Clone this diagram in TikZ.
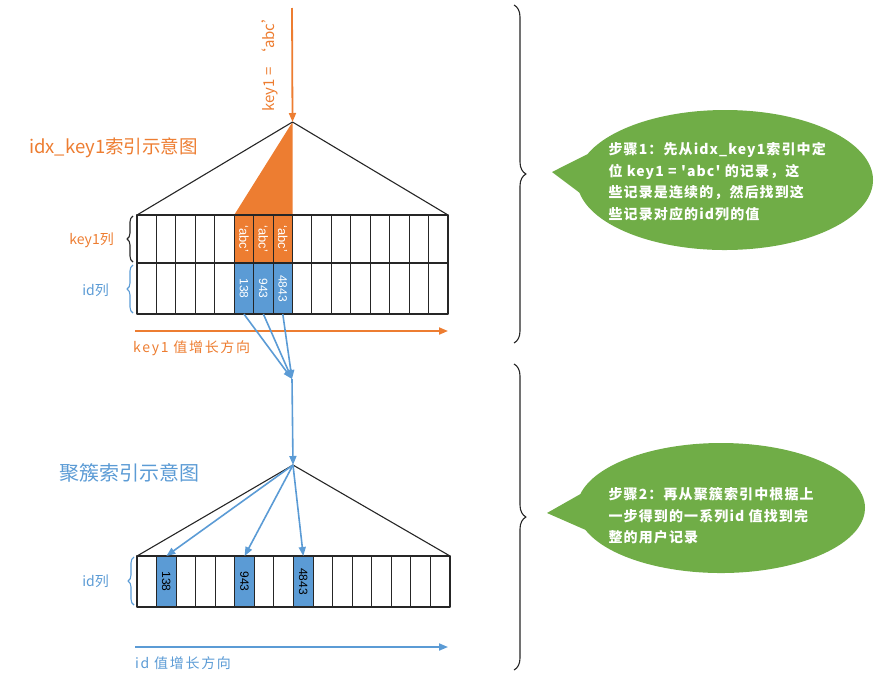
\documentclass[tikz,border=0pt]{standalone}
\usepackage{fontspec}
\setmainfont{Liberation Sans}
\newfontfamily\cjk{Noto Sans CJK SC}
\newfontfamily\cjkplain[Ligatures=TeXOff]{Noto Sans CJK SC}
\usetikzlibrary{arrows.meta,decorations.pathreplacing,shapes.callouts}
\definecolor{org}{HTML}{ED7D31}
\definecolor{blu}{HTML}{5B9BD5}
\definecolor{grn}{HTML}{70AD47}
\tikzset{
  cellA/.style={draw=black!85,line width=1.1pt,minimum width=19.4375pt,minimum height=48pt,inner sep=0pt,outer sep=0pt},
  cellB/.style={draw=black!85,line width=1.1pt,minimum width=19.5625pt,minimum height=51pt,inner sep=0pt,outer sep=0pt},
  celltxt/.style={rotate=-90,font=\fontsize{12}{12}\selectfont,inner sep=0pt},
  oarrow/.style={draw=org,line width=1.8pt,-{Triangle[length=9pt,width=7pt]}},
  barrow/.style={draw=blu,line width=1.8pt,-{Triangle[length=9pt,width=7pt]}},
  tri/.style={draw=black!85,line width=1.1pt},
  lbrace/.style={decorate,decoration={brace,amplitude=6pt},line width=1.1pt},
  rbrace/.style={decorate,decoration={brace,amplitude=12pt},line width=1.1pt,draw=black!85},
  bubble/.style={ellipse callout,fill=grn,callout pointer arc=32},
  bubtxt/.style={anchor=north west,align=left,text=white,font=\cjkplain\bfseries\fontsize{14}{21.5}\selectfont\addfontfeature{LetterSpace=8}},
  lab/.style={font=\cjk\fontsize{14}{14}\selectfont,inner sep=0pt}
}
\begin{document}
\begin{tikzpicture}[x=1pt,y=-1pt,line join=round]
\useasboundingbox (0,0) rectangle (890,691);

% ---------- top index ----------
\coordinate (qtop) at (292,8);
\coordinate (apex1) at (292.5,122);
\coordinate (L1) at (137,215);
\coordinate (R1) at (448,215);
\fill[org] (apex1) -- (234.2,215) -- (292.5,215) -- cycle;
\draw[tri] (L1) -- (apex1) -- (R1);

\foreach \i in {0,...,15}{
  \node[cellA] (a\i) at (137+19.4375*\i+9.71875,239) {};
  \node[cellA] (b\i) at (137+19.4375*\i+9.71875,288.5) [minimum height=51pt] {};
}
\foreach \i in {5,6,7}{
  \node[cellA,fill=org] at (a\i) {};
  \node[cellA,fill=blu,minimum height=51pt] at (b\i) {};
  \node[celltxt,text=white,font=\fontsize{13}{13}\selectfont] at (a\i) {‘abc’};
}
\node[celltxt,text=white] at (b5) {138};
\node[celltxt,text=white] at (b6) {943};
\node[celltxt,text=white] at (b7) {4843};

\draw[oarrow] (qtop) -- (apex1);
\node[lab,rotate=90,text=org,font=\cjk\fontsize{15}{15}\selectfont] (q) at (270,60) {key1 = ‘abc’};
\node[lab,text=org,anchor=west,font=\cjk\fontsize{18.5}{18.5}\selectfont] (t1) at (29,148) {idx\_key1索引示意图};

\draw[lbrace,draw=black!85] (133,262) -- (133,216);
\node[lab,text=org,anchor=east] (k1) at (114,240) {key1列};
\draw[lbrace,draw=blu] (133,313) -- (133,265);
\node[lab,text=blu,anchor=east] (i1) at (109,290) {id列};

\coordinate (o1) at (135,331);
\coordinate (o2) at (448,331);
\draw[oarrow] (o1) -- (o2);
\node[lab,text=org,anchor=west,font=\cjk\fontsize{14}{14}\selectfont\addfontfeature{LetterSpace=12}] (d1) at (133,348) {key1 值增长方向};

% ---------- connectors ----------
\coordinate (conv) at (292,379);
\coordinate (apex2) at (293,465);
\draw[barrow,line width=1.6pt] (b5.south) -- (conv);
\draw[barrow,line width=1.6pt] (b6.south) -- (conv);
\draw[barrow,line width=1.6pt] (b7.south) -- (conv);
\draw[barrow,line width=1.6pt] (conv) -- (apex2);

% ---------- clustered index ----------
\coordinate (L2) at (137,556);
\coordinate (R2) at (450,556);
\draw[tri] (L2) -- (apex2) -- (R2);
\node[lab,text=blu,anchor=west,font=\cjk\fontsize{20}{20}\selectfont] (t2) at (59,473) {聚簇索引示意图};

\foreach \i in {0,...,15}{
  \node[cellB] (c\i) at (137+19.5625*\i+9.78125,581.5) {};
}
\foreach \i in {1,5,8}{
  \node[cellB,fill=blu] at (c\i) {};
}
\node[celltxt,text=black] at (c1) {138};
\node[celltxt,text=black] at (c5) {943};
\node[celltxt,text=black] at (c8) {4843};

\draw[barrow,line width=1.6pt] (apex2) -- (c1.north);
\draw[barrow,line width=1.6pt] (apex2) -- (c5.north);
\draw[barrow,line width=1.6pt] (apex2) -- (c8.north);

\draw[lbrace,draw=blu] (134,605) -- (134,557);
\node[lab,text=blu,anchor=east] (i2) at (109,581) {id列};

\coordinate (p1) at (135,647);
\coordinate (p2) at (448,647);
\draw[barrow] (p1) -- (p2);
\node[lab,text=blu,anchor=west,font=\cjk\fontsize{14}{14}\selectfont\addfontfeature{LetterSpace=12}] (d2) at (135,663) {id 值增长方向};

% ---------- right side ----------
\draw[rbrace] (514,5) -- (514,343);
\draw[rbrace] (514,364) -- (514,670);

\node[bubble,minimum width=296pt,minimum height=140pt,callout absolute pointer={(552,172)}] (bub1) at (725,180) {};
\node[bubtxt] (s1) at (605,139) {步骤1：先从idx\_key1索引中定\\位 key1 = 'abc' 的记录，这\\些记录是连续的，然后找到这\\些记录对应的id列的值};

\node[bubble,minimum width=288pt,minimum height=130pt,callout absolute pointer={(547,513)}] (bub2) at (721,508) {};
\node[bubtxt] (s2) at (605,484) {步骤2：再从聚簇索引中根据上\\一步得到的一系列id 值找到完\\整的用户记录};
\end{tikzpicture}
\end{document}
